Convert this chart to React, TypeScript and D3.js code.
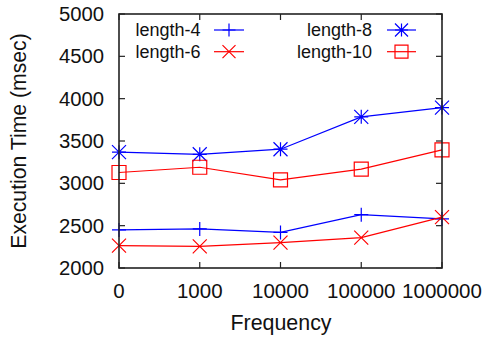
import React from "react";
import * as d3 from "d3";

const categories = ["0", "1000", "10000", "100000", "1000000"];
const yTicks = [2000, 2500, 3000, 3500, 4000, 4500, 5000];
const length4 = [2450, 2462, 2420, 2630, 2580];
const length6 = [2265, 2255, 2300, 2358, 2600];
const length8 = [3368, 3343, 3403, 3785, 3895];
const length10 = [3128, 3190, 3040, 3167, 3395];

const W = 485, H = 340;
const L = 119, R = 442, T = 14, B = 268;
const FONT = "'Liberation Sans', Arial, Helvetica, sans-serif";

type Series = { name: string; values: number[]; color: string; marker: string };
const series: Series[] = [
  { name: "length-4", values: length4, color: "#0000ff", marker: "plus" },
  { name: "length-6", values: length6, color: "#ff0000", marker: "cross" },
  { name: "length-8", values: length8, color: "#0000ff", marker: "star" },
  { name: "length-10", values: length10, color: "#ff0000", marker: "square" },
];

function markerPath(kind: string, x: number, y: number, s = 7): string {
  const p = d3.path();
  if (kind === "plus" || kind === "star") {
    p.moveTo(x - s, y); p.lineTo(x + s, y);
    p.moveTo(x, y - s); p.lineTo(x, y + s);
  }
  if (kind === "cross" || kind === "star") {
    p.moveTo(x - s, y - s); p.lineTo(x + s, y + s);
    p.moveTo(x - s, y + s); p.lineTo(x + s, y - s);
  }
  if (kind === "square") {
    p.rect(x - s, y - s, 2 * s, 2 * s);
  }
  return p.toString();
}

export default function App() {
  const x = d3.scalePoint<string>().domain(categories).range([L, R]);
  const y = d3.scaleLinear().domain([2000, 5000]).range([B, T]);
  const line = d3.line<number>().x((_, i) => x(categories[i])!).y((d) => y(d));
  const tickLen = 6;

  const legendRows = [
    { s: series[0], textX: 200.5, lx1: 214, lx2: 244, cy: 30 },
    { s: series[1], textX: 200.5, lx1: 214, lx2: 244, cy: 51.7 },
    { s: series[2], textX: 372, lx1: 387, lx2: 416, cy: 30 },
    { s: series[3], textX: 372, lx1: 387, lx2: 416, cy: 51.7 },
  ];

  return (
    <svg width={W} height={H} style={{ position: "absolute", left: 0, top: 0, background: "#fff" }}
      fontFamily={FONT}>
      <rect x={0} y={0} width={W} height={H} fill="#fff" />
      {yTicks.map((t) => (
        <g key={"y" + t}>
          <line x1={L} x2={L + tickLen} y1={y(t)} y2={y(t)} stroke="#222" strokeWidth={1.2} />
          <line x1={R} x2={R - tickLen} y1={y(t)} y2={y(t)} stroke="#222" strokeWidth={1.2} />
          <text x={104} y={y(t)} dy="0.35em" textAnchor="end" fontSize={20.3} fill="#111">{t}</text>
        </g>
      ))}
      {categories.map((c) => (
        <g key={"x" + c}>
          <line x1={x(c)} x2={x(c)} y1={B} y2={B - tickLen} stroke="#222" strokeWidth={1.2} />
          <line x1={x(c)} x2={x(c)} y1={T} y2={T + tickLen} stroke="#222" strokeWidth={1.2} />
          <text x={x(c)} y={297.5} textAnchor="middle" fontSize={20.5} fill="#111">{c}</text>
        </g>
      ))}
      {series.map((s) => (
        <g key={s.name}>
          <path d={line(s.values) ?? ""} fill="none" stroke={s.color} strokeWidth={1.2} />
          {s.values.map((v, i) => (
            <path key={i} d={markerPath(s.marker, x(categories[i])!, y(v))} fill="none"
              stroke={s.color} strokeWidth={1.2} />
          ))}
        </g>
      ))}
      {legendRows.map((r) => (
        <g key={"lg" + r.s.name}>
          <text x={r.textX} y={r.cy} dy="0.36em" textAnchor="end" fontSize={18} fill="#111">{r.s.name}</text>
          <line x1={r.lx1} x2={r.lx2} y1={r.cy} y2={r.cy} stroke={r.s.color} strokeWidth={1.2} />
          <path d={markerPath(r.s.marker, (r.lx1 + r.lx2) / 2, r.cy, 6.5)} fill="none" stroke={r.s.color} strokeWidth={1.2} />
        </g>
      ))}
      <rect x={L} y={T} width={R - L} height={B - T} fill="none" stroke="#222" strokeWidth={1.6} />
      <text x={(L + R) / 2 + 0.5} y={330} textAnchor="middle" fontSize={21.4} fill="#111">Frequency</text>
      <text transform={`translate(26,${(T + B) / 2}) rotate(-90)`} textAnchor="middle" fontSize={21.2} fill="#111">
        Execution Time (msec)
      </text>
    </svg>
  );
}
